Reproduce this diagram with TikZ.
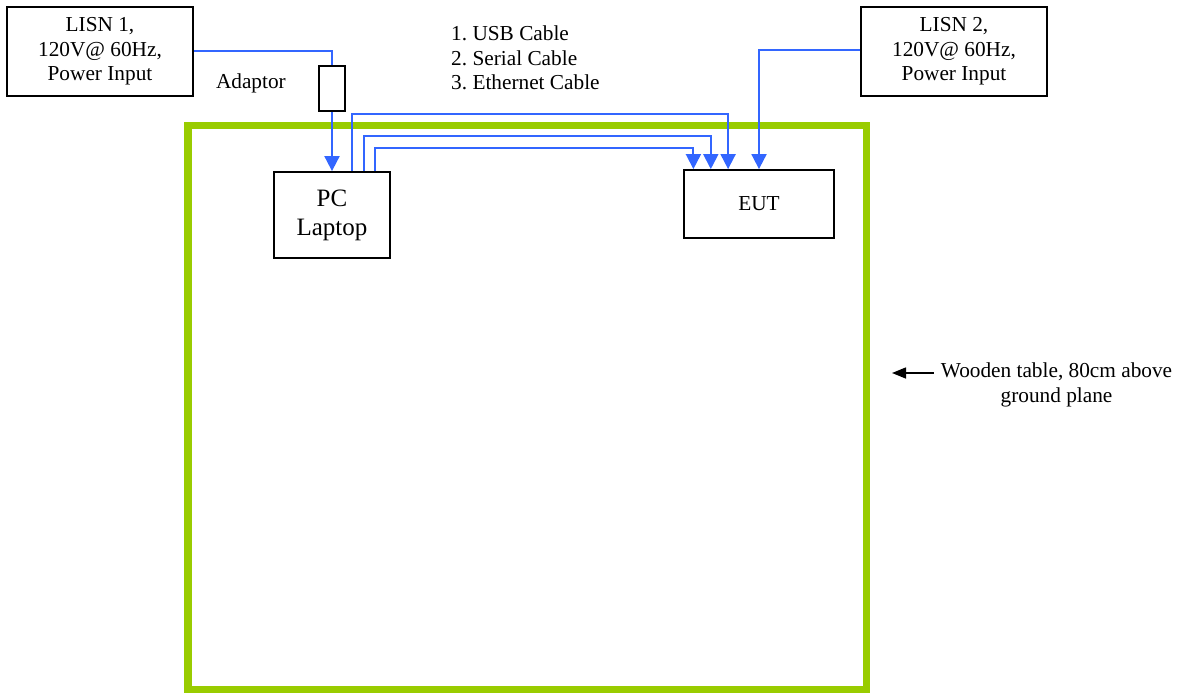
\documentclass[tikz,border=0pt]{standalone}
\usepackage{fontspec}
\setmainfont{Liberation Serif}
\usetikzlibrary{arrows.meta}
\definecolor{cableblue}{HTML}{3366FF}
\definecolor{tablegreen}{HTML}{99CC00}
\frenchspacing
\begin{document}
\begin{tikzpicture}[x=1pt,y=-1pt,
  txt/.style={font=\fontsize{21.3}{24.5}\selectfont},
  box/.style={draw=black,line width=1.8pt,rectangle,inner sep=0pt,align=center,txt},
  cable/.style={draw=cableblue,line width=1.9pt,-{Triangle[length=15pt,width=15pt]}},
  plain/.style={draw=cableblue,line width=1.9pt}]
\useasboundingbox (0,0) rectangle (1185,698);
% table
\draw[tablegreen,line width=7.5pt] (188,125.5) rectangle (866.5,689.5);
% boxes
\node[box,minimum width=186pt,minimum height=89pt] (lisn1) at (100,51.5) {LISN 1,\\120V@ 60Hz,\\Power Input};
\node[box,minimum width=186pt,minimum height=89pt] (lisn2) at (954,51.5) {LISN 2,\\120V@ 60Hz,\\Power Input};
\node[box,minimum width=26pt,minimum height=45pt] (adaptor) at (332,88.5) {};
\node[box,minimum width=116pt,minimum height=86pt,font=\fontsize{25}{29}\selectfont] (pc) at (332,215) {PC\\Laptop};
\node[box,minimum width=150pt,minimum height=68pt] (eut) at (759,204) {EUT};
% labels
\node[txt,anchor=east,inner sep=0pt] (adlbl) at (286,83) {Adaptor};
\node[txt,anchor=west,align=left,inner sep=0pt] (cables) at (451,58) {1. USB Cable\\2. Serial Cable\\3. Ethernet Cable};
\node[txt,align=center,inner sep=0pt] (wood) at (1056.5,385) {Wooden table, 80cm above\\ground plane};
% power connections
\coordinate (c1) at (332,51);
\draw[plain] (lisn1.east |- c1) -- (c1) -- (adaptor.north);
\draw[cable] (adaptor.south) -- (pc.north);
\coordinate (c2) at (759,50);
\draw[cable] (lisn2.west |- c2) -- (c2) -- (eut.north west -| c2);
% cables
\draw[cable] ([xshift=79pt]pc.north west) |- (540,114.3) -| ([xshift=45pt]eut.north west);
\draw[cable] ([xshift=91pt]pc.north west) |- (540,136) -| ([xshift=27.7pt]eut.north west);
\draw[cable] ([xshift=101.7pt]pc.north west) |- (540,148.3) -| ([xshift=10.3pt]eut.north west);
% table pointer
\coordinate (tip) at (892,373);
\draw[black,line width=1.5pt,-{Triangle[length=14pt,width=11pt]}] ([xshift=-7pt]wood.west |- tip) -- (tip);
\end{tikzpicture}
\end{document}
